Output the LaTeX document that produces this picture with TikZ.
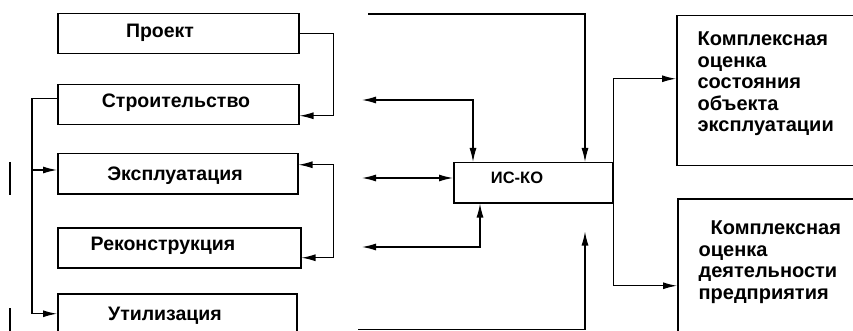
\documentclass[tikz,border=0pt]{standalone}
\usepackage{fontspec}
\setmainfont{Liberation Sans}
\usetikzlibrary{arrows.meta}
\begin{document}
\begin{tikzpicture}[x=1pt,y=-1pt,line width=1.2pt,
  box/.style={draw,line width=1.5pt,inner sep=0pt,anchor=north west},
  lbl/.style={font=\fontsize{19.5}{22}\selectfont\bfseries,inner sep=0pt,anchor=base},
  rtxt/.style={font=\fontsize{20}{21.5}\selectfont\bfseries,inner sep=0pt,anchor=north west,align=left},
  arr/.style={-{Latex[length=14pt,width=7pt]}},
  darr/.style={{Latex[length=14pt,width=7pt]}-{Latex[length=14pt,width=7pt]}}]
\useasboundingbox (0,0) rectangle (853,331);
% left column boxes
\node[box,minimum width=241pt,minimum height=40pt] (p) at (57,13) {};
\node[box,minimum width=241pt,minimum height=40pt] (s) at (57,84) {};
\node[box,minimum width=240pt,minimum height=40pt] (e) at (57,153) {};
\node[box,minimum width=243pt,minimum height=40pt] (r) at (57,227) {};
\node[box,minimum width=239pt,minimum height=40pt] (u) at (57,293) {};
\node[lbl] (tp) at (160,38) {Проект};
\node[lbl] (ts) at (176,108) {Строительство};
\node[lbl] (te) at (175,180) {Эксплуатация};
\node[lbl] (tr) at (163,250) {Реконструкция};
\node[lbl] (tu) at (165,320) {Утилизация};
% central box
\node[box,minimum width=159pt,minimum height=40pt] (isko) at (453,162) {};
\node[lbl,font=\fontsize{16.5}{19}\selectfont\bfseries] (ti) at (517,183) {ИС-КО};
% right boxes
\node[box,minimum width=200pt,minimum height=150pt] (k1) at (676,15) {};
\node[box,minimum width=200pt,minimum height=142pt] (k2) at (677,198) {};
\node[rtxt] (tk1) at (697,31.5) {Комплексная\\оценка\\состояния\\объекта\\эксплуатации};
\node[rtxt] (tk2) at (698,220.5) {\hspace*{12pt}Комплексная\\оценка\\деятельности\\предприятия};
% left-side connectors
\coordinate (j) at (32,170);
\draw[arr] (p.east) -- ++(34,0) |- ([yshift=-11pt]s.east);
\draw[arr] ([yshift=6pt]s.west) -| (j) -- (e.west |- j);
\draw[arr] (j) |- (u.west);
\draw[darr] ([yshift=9pt]e.east) -- ++(35,0) |- ([yshift=-10pt]r.east);
\draw (10,162) -- (10,195);
\draw (10,308) -- (10,331);
% connectors to the central box
\coordinate (c1) at (368,14);
\coordinate (c2) at (362,100);
\coordinate (c3) at (362,178);
\coordinate (c4) at (362,247);
\coordinate (c5) at (358,329.5);
\draw[arr] (c1) -| ([xshift=132pt]isko.north west);
\draw[darr] (c2) -| ([xshift=20pt]isko.north west);
\draw[darr] (c3) -- (isko.west |- c3);
\draw[darr] (c4) -| ([xshift=27pt]isko.south west);
\draw[arr,shorten >=28pt] (c5) -| ([xshift=132pt]isko.south west);
% outputs
\draw[arr] (isko.north east) |- ([yshift=12pt]k1.west);
\draw[arr] (isko.south east) |- ([yshift=-16pt]k2.west);
\end{tikzpicture}
\end{document}
